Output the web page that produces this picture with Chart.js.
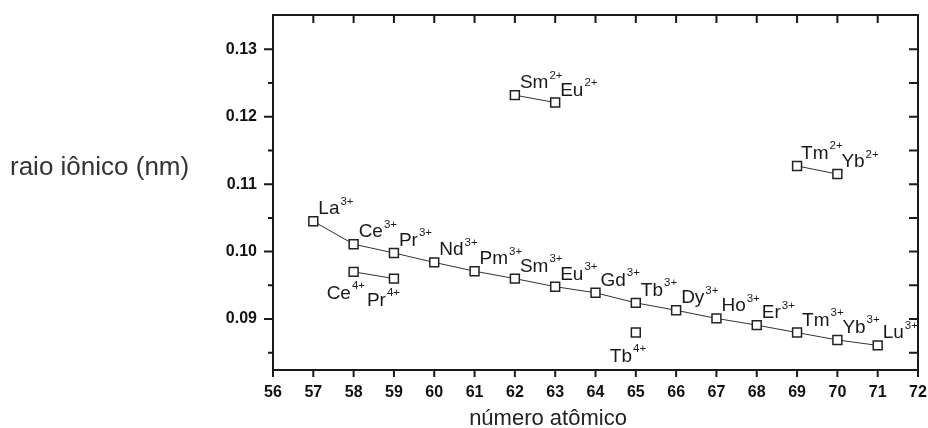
<!DOCTYPE html>
<html>
<head>
<meta charset="utf-8">
<script src="https://cdn.jsdelivr.net/npm/chart.js@4.4.1/dist/chart.umd.min.js"></script>
<style>
  html, body { margin: 0; padding: 0; background: #fff; }
  canvas { display: block; }
</style>
</head>
<body>
<canvas id="raioChart" width="928" height="428"></canvas>
<script>
// --- dados ---
const ln3Numbers = [57, 58, 59, 60, 61, 62, 63, 64, 65, 66, 67, 68, 69, 70, 71];
const ln3Radius = [0.1045, 0.1011, 0.0998, 0.0984, 0.0971, 0.0960, 0.0948, 0.0939, 0.0924, 0.0913, 0.0901, 0.0891, 0.0880, 0.0869, 0.0861];
const ln3Symbols = ['La', 'Ce', 'Pr', 'Nd', 'Pm', 'Sm', 'Eu', 'Gd', 'Tb', 'Dy', 'Ho', 'Er', 'Tm', 'Yb', 'Lu'];

const cePr4Numbers = [58, 59];
const cePr4Radius = [0.0970, 0.0960];
const cePr4Symbols = ['Ce', 'Pr'];

const tb4Numbers = [65];
const tb4Radius = [0.0880];
const tb4Symbols = ['Tb'];

const smEu2Numbers = [62, 63];
const smEu2Radius = [0.1232, 0.1221];
const smEu2Symbols = ['Sm', 'Eu'];

const tmYb2Numbers = [69, 70];
const tmYb2Radius = [0.1127, 0.1115];
const tmYb2Symbols = ['Tm', 'Yb'];

const xTickValues = [56, 57, 58, 59, 60, 61, 62, 63, 64, 65, 66, 67, 68, 69, 70, 71, 72];
const yTickValues = [0.09, 0.10, 0.11, 0.12, 0.13];
const yMinorValues = [0.085, 0.095, 0.105, 0.115, 0.125];

const FONT = "'Liberation Sans', Arial, Helvetica, sans-serif";
const INK = '#1a1a1a';

const toPoints = (xs, ys) => xs.map((v, i) => ({ x: v, y: ys[i] }));

const series = (xs, ys, symbols, charge, dx, dy, showLine) => ({
    data: toPoints(xs, ys),
    symbols: symbols,
    charge: charge,
    labelDx: dx,
    labelDy: dy,
    showLine: showLine,
    borderColor: '#333',
    borderWidth: 1,
    pointStyle: 'rect',
    pointRadius: 6.3,
    pointBorderWidth: 1.5,
    pointBorderColor: '#222',
    pointBackgroundColor: '#fff',
    tension: 0
});

// moldura + marcas de escala
const framePlugin = {
    id: 'frame',
    afterDraw(chart) {
        const { ctx, chartArea: a, scales: { x, y } } = chart;
        ctx.save();
        ctx.strokeStyle = INK;
        ctx.lineWidth = 2;
        ctx.strokeRect(a.left, a.top, a.right - a.left, a.bottom - a.top);
        ctx.beginPath();
        xTickValues.forEach(v => {
            const px = x.getPixelForValue(v);
            ctx.moveTo(px, a.bottom); ctx.lineTo(px, a.bottom + 7);
            ctx.moveTo(px, a.top); ctx.lineTo(px, a.top + 8);
        });
        yTickValues.forEach(v => {
            const py = y.getPixelForValue(v);
            ctx.moveTo(a.left - 9, py); ctx.lineTo(a.left, py);
            ctx.moveTo(a.right - 9, py); ctx.lineTo(a.right, py);
        });
        yMinorValues.forEach(v => {
            const py = y.getPixelForValue(v);
            ctx.moveTo(a.left - 5, py); ctx.lineTo(a.left, py);
            ctx.moveTo(a.right - 9, py); ctx.lineTo(a.right, py);
        });
        ctx.stroke();

        // títulos dos eixos
        ctx.fillStyle = '#333';
        ctx.font = `26px ${FONT}`;
        ctx.textAlign = 'left';
        ctx.textBaseline = 'alphabetic';
        ctx.fillText('raio iônico (nm)', 10, 175);
        ctx.fillStyle = '#222';
        ctx.font = `22px ${FONT}`;
        ctx.textAlign = 'center';
        ctx.fillText('número atômico', 548, 425);
        ctx.restore();
    }
};

// rótulos dos íons com carga sobrescrita
const ionLabelPlugin = {
    id: 'ionLabels',
    afterDatasetsDraw(chart) {
        const { ctx } = chart;
        ctx.save();
        ctx.fillStyle = INK;
        ctx.textAlign = 'left';
        ctx.textBaseline = 'alphabetic';
        chart.data.datasets.forEach((ds, di) => {
            const meta = chart.getDatasetMeta(di);
            meta.data.forEach((pt, i) => {
                const tx = pt.x + ds.labelDx;
                const ty = pt.y + ds.labelDy;
                ctx.font = `19px ${FONT}`;
                const sym = ds.symbols[i];
                ctx.fillText(sym, tx, ty);
                const w = ctx.measureText(sym).width;
                ctx.font = `11.5px ${FONT}`;
                ctx.fillText(ds.charge, tx + w + 1, ty - 9.5);
            });
        });
        ctx.restore();
    }
};

new Chart(document.getElementById('raioChart'), {
    type: 'scatter',
    data: {
        datasets: [
            series(ln3Numbers, ln3Radius, ln3Symbols, '3+', 5, -7, true),
            series(cePr4Numbers, cePr4Radius, cePr4Symbols, '4+', -27, 27, true),
            series(tb4Numbers, tb4Radius, tb4Symbols, '4+', -26, 29, false),
            series(smEu2Numbers, smEu2Radius, smEu2Symbols, '2+', 5, -7, true),
            series(tmYb2Numbers, tmYb2Radius, tmYb2Symbols, '2+', 4, -7, true)
        ]
    },
    options: {
        responsive: false,
        animation: false,
        devicePixelRatio: 1,
        layout: { padding: { top: 15, right: 10, left: 0, bottom: 0 } },
        plugins: {
            legend: { display: false },
            tooltip: { enabled: false }
        },
        scales: {
            x: {
                type: 'linear',
                min: 56,
                max: 72,
                afterBuildTicks: s => { s.ticks = xTickValues.map(v => ({ value: v })); },
                afterFit: s => { s.height = 58; s.paddingLeft = 0; s.paddingRight = 0; },
                grid: { display: false, drawTicks: false },
                border: { display: false },
                ticks: {
                    padding: 13,
                    color: '#111',
                    font: { family: FONT, size: 16, weight: 'bold' },
                    callback: v => String(v)
                }
            },
            y: {
                type: 'linear',
                min: 0.08245,
                max: 0.13508,
                afterBuildTicks: s => { s.ticks = yTickValues.map(v => ({ value: v })); },
                afterFit: s => { s.width = 273; s.paddingTop = 0; s.paddingBottom = 0; },
                grid: { display: false, drawTicks: false },
                border: { display: false },
                ticks: {
                    padding: 16,
                    color: '#111',
                    font: { family: FONT, size: 16, weight: 'bold' },
                    callback: v => v.toFixed(2)
                }
            }
        }
    },
    plugins: [framePlugin, ionLabelPlugin]
});
</script>
</body>
</html>
